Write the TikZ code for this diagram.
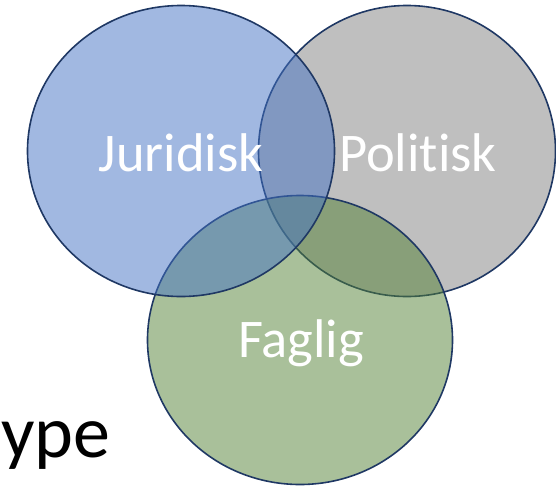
\documentclass[tikz,border=0pt]{standalone}
\usepackage{fontspec}
\setmainfont{Carlito}[Ligatures=NoCommon]
\usetikzlibrary{shapes.geometric}

\definecolor{setblue}{HTML}{4472C4}
\definecolor{setgray}{HTML}{7F7F7F}
\definecolor{setgreen}{HTML}{538135}
\definecolor{setrim}{HTML}{1F3864}

\tikzset{
  setring/.style={shape=ellipse, draw=setrim, line width=1.6pt, fill opacity=0.5, inner sep=0pt},
  setname/.style={text=white, font=\fontsize{54.5}{64}\selectfont, inner sep=0pt}
}

\begin{document}
\begin{tikzpicture}[x=1pt, y=-1pt]
\useasboundingbox (0,0) rectangle (556,488);
\node[setring, fill=setgray, minimum width=297pt, minimum height=291pt] (P) at (407,151) {};
\node[setring, fill=setgreen, minimum width=305pt, minimum height=289pt] (F) at (300,340) {};
\node[setring, fill=setblue, minimum width=307pt, minimum height=291pt] (J) at (181,151) {};
\node[setname] (Jtxt) at (181,153) {Juridisk};
\node[setname] (Ptxt) at (418,153) {Politisk};
\node[setname] (Ftxt) at (301,343) {Faglig};
\node[anchor=base west, inner sep=0pt, font=\fontsize{74}{82}\selectfont] (typ) at (1,457) {ype};
\end{tikzpicture}
\end{document}
